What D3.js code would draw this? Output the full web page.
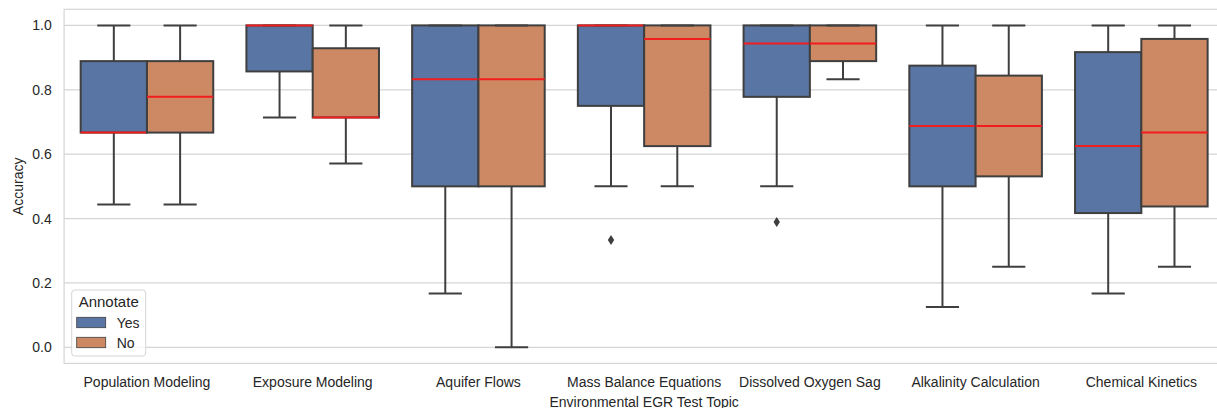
<!DOCTYPE html>
<html lang="en">
<head>
<meta charset="UTF-8">
<title>Accuracy by Environmental EGR Test Topic</title>
<script src="https://cdn.jsdelivr.net/npm/d3@7"></script>
<style>
    body { margin: 0; background: #fff; }
    svg { display: block; font-family: Arial, "Liberation Sans", sans-serif; }
</style>
</head>
<body>
<div id="chart"></div>
<script>
// topics along the x axis
const categories = ["Population Modeling", "Exposure Modeling", "Aquifer Flows",
    "Mass Balance Equations", "Dissolved Oxygen Sag", "Alkalinity Calculation", "Chemical Kinetics"];
const hues = ["Yes", "No"];
const yTicks = [0.0, 0.2, 0.4, 0.6, 0.8, 1.0];

// box stats: [whisker low, Q1, median, Q3, whisker high]
const yesBoxes = [
    [0.444, 0.667, 0.667, 0.889, 1.0],
    [0.714, 0.857, 1.0, 1.0, 1.0],
    [0.167, 0.5, 0.833, 1.0, 1.0],
    [0.5, 0.75, 1.0, 1.0, 1.0],
    [0.5, 0.778, 0.944, 1.0, 1.0],
    [0.125, 0.5, 0.6875, 0.875, 1.0],
    [0.167, 0.417, 0.625, 0.917, 1.0]
];
const noBoxes = [
    [0.444, 0.667, 0.778, 0.889, 1.0],
    [0.571, 0.714, 0.714, 0.929, 1.0],
    [0.0, 0.5, 0.833, 1.0, 1.0],
    [0.5, 0.625, 0.958, 1.0, 1.0],
    [0.833, 0.889, 0.944, 1.0, 1.0],
    [0.25, 0.531, 0.6875, 0.844, 1.0],
    [0.25, 0.4375, 0.667, 0.958, 1.0]
];
// fliers: [category, hue, value]
const outliers = [
    ["Mass Balance Equations", "Yes", 0.333],
    ["Dissolved Oxygen Sag", "Yes", 0.389]
];

const colors = { Yes: "#5975a4", No: "#cc8963" };
const edge = "#3f3f3f";
const textColor = "#262626";

const width = 1217, height = 408;
const plot = { left: 64.1, right: 1224.2, top: 9.3, bottom: 363.4 };

const svg = d3.select("#chart").append("svg")
    .attr("width", width)
    .attr("height", height);

const x = d3.scaleBand()
    .domain(categories)
    .range([plot.left, plot.right])
    .paddingInner(0.2)
    .paddingOuter(0.1);

const xHue = d3.scaleBand()
    .domain(hues)
    .range([0, x.bandwidth()]);

const y = d3.scaleLinear()
    .domain([-0.05, 1.05])
    .range([plot.bottom, plot.top]);

// horizontal grid
svg.append("g")
    .selectAll("line")
    .data(yTicks)
    .join("line")
    .attr("x1", plot.left)
    .attr("x2", plot.right)
    .attr("y1", d => y(d))
    .attr("y2", d => y(d))
    .attr("stroke", "#d5d5d5")
    .attr("stroke-width", 1.2);

// frame
svg.append("rect")
    .attr("x", plot.left)
    .attr("y", plot.top)
    .attr("width", plot.right - plot.left)
    .attr("height", plot.bottom - plot.top)
    .attr("fill", "none")
    .attr("stroke", "#d5d5d5")
    .attr("stroke-width", 1.2);

// axes
const yAxis = svg.append("g")
    .attr("transform", `translate(${plot.left},0)`)
    .call(d3.axisLeft(y).tickValues(yTicks).tickFormat(d3.format(".1f")).tickSize(0).tickPadding(12.4));
yAxis.select(".domain").remove();
yAxis.selectAll("text").attr("fill", textColor).style("font-size", "14px");

const xAxis = svg.append("g")
    .attr("transform", `translate(0,${plot.bottom})`)
    .call(d3.axisBottom(x).tickSize(0).tickPadding(13.2));
xAxis.select(".domain").remove();
xAxis.selectAll("text").attr("fill", textColor).style("font-size", "14px");

svg.append("text")
    .attr("x", (plot.left + plot.right) / 2)
    .attr("y", 406.5)
    .attr("text-anchor", "middle")
    .attr("fill", textColor)
    .style("font-size", "14px")
    .text("Environmental EGR Test Topic");

svg.append("text")
    .attr("transform", `translate(23,${(plot.top + plot.bottom) / 2}) rotate(-90)`)
    .attr("text-anchor", "middle")
    .attr("fill", textColor)
    .style("font-size", "14px")
    .text("Accuracy");

// boxes
const boxes = [];
categories.forEach((cat, i) => {
    boxes.push({ cat, hue: "Yes", s: yesBoxes[i] });
    boxes.push({ cat, hue: "No", s: noBoxes[i] });
});

const bw = xHue.bandwidth();
const g = svg.selectAll(".box")
    .data(boxes)
    .join("g")
    .attr("class", "box")
    .attr("transform", d => `translate(${x(d.cat) + xHue(d.hue)},0)`);

g.append("rect")
    .attr("x", 0)
    .attr("width", bw)
    .attr("y", d => y(d.s[3]))
    .attr("height", d => y(d.s[1]) - y(d.s[3]))
    .attr("fill", d => colors[d.hue])
    .attr("stroke", edge)
    .attr("stroke-width", 2);

// whiskers
g.append("line")
    .attr("x1", bw / 2).attr("x2", bw / 2)
    .attr("y1", d => y(d.s[3])).attr("y2", d => y(d.s[4]))
    .attr("stroke", edge).attr("stroke-width", 2);
g.append("line")
    .attr("x1", bw / 2).attr("x2", bw / 2)
    .attr("y1", d => y(d.s[1])).attr("y2", d => y(d.s[0]))
    .attr("stroke", edge).attr("stroke-width", 2);

// caps
[0, 4].forEach(k => {
    g.append("line")
        .attr("x1", bw / 4).attr("x2", bw * 3 / 4)
        .attr("y1", d => y(d.s[k])).attr("y2", d => y(d.s[k]))
        .attr("stroke", edge).attr("stroke-width", 2);
});

// medians
g.append("line")
    .attr("x1", 0).attr("x2", bw)
    .attr("y1", d => y(d.s[2])).attr("y2", d => y(d.s[2]))
    .attr("stroke", "#f21d1d").attr("stroke-width", 2);

// fliers as thin diamonds
svg.selectAll(".flier")
    .data(outliers)
    .join("path")
    .attr("class", "flier")
    .attr("d", d => {
        const cx = x(d[0]) + xHue(d[1]) + bw / 2, cy = y(d[2]);
        return `M${cx},${cy - 5}L${cx + 3.2},${cy}L${cx},${cy + 5}L${cx - 3.2},${cy}Z`;
    })
    .attr("fill", edge);

// legend
const legend = svg.append("g").attr("transform", "translate(71.7,290)");
legend.append("rect")
    .attr("width", 74)
    .attr("height", 66)
    .attr("rx", 3)
    .attr("fill", "#fff")
    .attr("fill-opacity", 0.8)
    .attr("stroke", "#d5d5d5");
legend.append("text")
    .attr("x", 37)
    .attr("y", 17.3)
    .attr("text-anchor", "middle")
    .attr("fill", textColor)
    .style("font-size", "15px")
    .text("Annotate");
const items = legend.selectAll(".item")
    .data(hues)
    .join("g")
    .attr("class", "item")
    .attr("transform", (d, i) => `translate(5,${27.3 + i * 20})`);
items.append("rect")
    .attr("width", 29)
    .attr("height", 10.4)
    .attr("fill", d => colors[d])
    .attr("stroke", edge)
    .attr("stroke-width", 0.8);
items.append("text")
    .attr("x", 40)
    .attr("y", 10.4)
    .attr("fill", textColor)
    .style("font-size", "14px")
    .text(d => d);
</script>
</body>
</html>
